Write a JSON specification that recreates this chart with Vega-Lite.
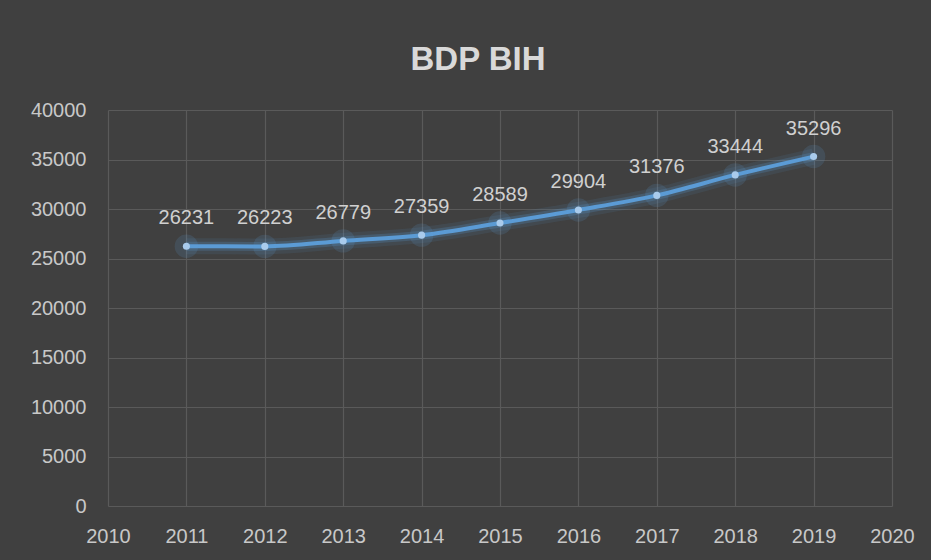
{
  "$schema": "https://vega.github.io/schema/vega-lite/v6.json",
  "width": 784,
  "height": 396,
  "autosize": "none",
  "padding": {"left": 108, "top": 110, "right": 39, "bottom": 54},
  "background": "#404040",
  "title": {
    "text": "BDP BIH",
    "anchor": "middle",
    "frame": "group",
    "dx": -22,
    "dy": 44,
    "offset": 41,
    "baseline": "alphabetic",
    "font": "Liberation Sans",
    "fontSize": 33,
    "fontWeight": "bold",
    "color": "#d9d9d9"
  },
  "config": {
    "view": {"stroke": null},
    "axis": {
      "gridColor": "#5a5a5a",
      "gridWidth": 1.2,
      "domain": false,
      "ticks": false,
      "labelFont": "Liberation Sans",
      "labelFontSize": 20,
      "labelColor": "#c8c8c8",
      "title": null
    }
  },
  "data": {
    "values": [
      {"year": 2011, "gdp": 26231},
      {"year": 2012, "gdp": 26223},
      {"year": 2013, "gdp": 26779},
      {"year": 2014, "gdp": 27359},
      {"year": 2015, "gdp": 28589},
      {"year": 2016, "gdp": 29904},
      {"year": 2017, "gdp": 31376},
      {"year": 2018, "gdp": 33444},
      {"year": 2019, "gdp": 35296}
    ]
  },
  "encoding": {
    "x": {
      "field": "year",
      "type": "quantitative",
      "scale": {"domain": [2010, 2020], "nice": false, "zero": false},
      "axis": {"values": [2010, 2011, 2012, 2013, 2014, 2015, 2016, 2017, 2018, 2019, 2020], "format": "d", "labelPadding": 20, "labelFlush": false}
    },
    "y": {
      "field": "gdp",
      "type": "quantitative",
      "scale": {"domain": [0, 40000], "nice": false},
      "axis": {"values": [0, 5000, 10000, 15000, 20000, 25000, 30000, 35000, 40000], "format": "d", "labelPadding": 22}
    }
  },
  "layer": [
    {"mark": {"type": "line", "interpolate": "monotone", "color": "#5b9bd5", "strokeWidth": 16, "opacity": 0.1}},
    {"mark": {"type": "line", "interpolate": "monotone", "color": "#5b9bd5", "strokeWidth": 9, "opacity": 0.22}},
    {"mark": {"type": "line", "interpolate": "monotone", "color": "#5b9bd5", "strokeWidth": 4}},
    {"mark": {"type": "circle", "color": "#5b9bd5", "size": 550, "opacity": 0.16}},
    {"mark": {"type": "circle", "color": "#a9cbec", "size": 50, "opacity": 1}},
    {
      "mark": {"type": "text", "dy": -28, "font": "Liberation Sans", "fontSize": 20, "color": "#d0d0d0"},
      "encoding": {"text": {"field": "gdp", "type": "quantitative", "format": "d"}}
    }
  ]
}
